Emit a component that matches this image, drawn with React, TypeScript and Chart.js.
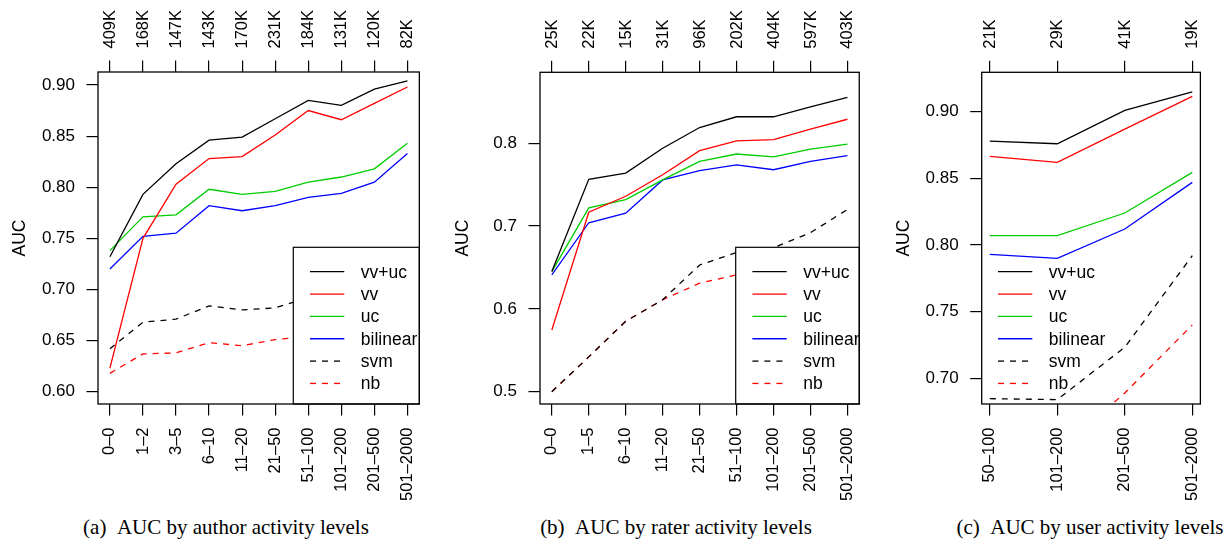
import React, { useEffect, useRef } from "react";
import { Chart, registerables } from "chart.js";
Chart.register(...registerables);

// ---------- shared series info ----------
const seriesNames = ["vv+uc", "vv", "uc", "bilinear", "svm", "nb"];
const seriesColors = ["#000000", "#FF0000", "#00CD00", "#0000FF", "#000000", "#FF0000"];
const seriesDashed = [false, false, false, false, true, true];

// ---------- panel (a): author activity ----------
const authorLevels = ["0–0", "1–2", "3–5", "6–10", "11–20", "21–50", "51–100", "101–200", "201–500", "501–2000"];
const authorCounts = ["409K", "168K", "147K", "143K", "170K", "231K", "184K", "131K", "120K", "82K"];
const authorVvUc = [0.732, 0.793, 0.823, 0.846, 0.849, 0.867, 0.885, 0.880, 0.896, 0.904];
const authorVv = [0.623, 0.750, 0.803, 0.828, 0.830, 0.851, 0.875, 0.866, 0.882, 0.898];
const authorUc = [0.738, 0.771, 0.773, 0.798, 0.793, 0.796, 0.805, 0.810, 0.818, 0.843];
const authorBilinear = [0.720, 0.752, 0.755, 0.782, 0.777, 0.782, 0.790, 0.794, 0.805, 0.833];
const authorSvm = [0.642, 0.668, 0.671, 0.684, 0.680, 0.682, 0.692, 0.690, 0.697, 0.708];
const authorNb = [0.618, 0.637, 0.638, 0.648, 0.645, 0.651, 0.654, 0.652, 0.658, 0.668];
const authorYTicks = [0.60, 0.65, 0.70, 0.75, 0.80, 0.85, 0.90];

// ---------- panel (b): rater activity ----------
const raterLevels = ["0–0", "1–5", "6–10", "11–20", "21–50", "51–100", "101–200", "201–500", "501–2000"];
const raterCounts = ["25K", "22K", "15K", "31K", "96K", "202K", "404K", "597K", "403K"];
const raterVvUc = [0.645, 0.7565, 0.764, 0.794, 0.819, 0.832, 0.832, 0.844, 0.8555];
const raterVv = [0.5745, 0.7167, 0.736, 0.762, 0.791, 0.803, 0.8044, 0.817, 0.829];
const raterUc = [0.645, 0.722, 0.732, 0.7557, 0.778, 0.787, 0.7835, 0.793, 0.799];
const raterBilinear = [0.641, 0.704, 0.7155, 0.7557, 0.767, 0.774, 0.768, 0.778, 0.785];
const raterSvm = [0.500, 0.542, 0.585, 0.611, 0.653, 0.668, 0.674, 0.692, 0.720];
const raterNb = [0.500, 0.542, 0.585, 0.611, 0.631, 0.641, 0.650, 0.655, 0.662];
const raterYTicks = [0.5, 0.6, 0.7, 0.8];

// ---------- panel (c): user activity ----------
const userLevels = ["50–100", "101–200", "201–500", "501–2000"];
const userCounts = ["21K", "29K", "41K", "19K"];
const userVvUc = [0.878, 0.876, 0.901, 0.915];
const userVv = [0.8665, 0.862, 0.887, 0.9115];
const userUc = [0.807, 0.807, 0.824, 0.8545];
const userBilinear = [0.793, 0.790, 0.812, 0.847];
const userSvm = [0.6847, 0.684, 0.7233, 0.792];
const userNb = [0.645, 0.644, 0.689, 0.740];
const userYTicks = [0.70, 0.75, 0.80, 0.85, 0.90];

const captions = [
  "(a)\u2002AUC by author activity levels",
  "(b)\u2002AUC by rater activity levels",
  "(c)\u2002AUC by user activity levels",
];

const SANS = "'Liberation Sans', Arial, Helvetica, sans-serif";

type PanelCfg = {
  left: number;
  width: number;
  height: number;
  yAxisW: number;
  topH: number;
  bottomH: number;
  padRight: number;
  yMin: number;
  yMax: number;
  yTicks: number[];
  dec: number;
  titleOffset: number;
  levels: string[];
  counts: string[];
  series: number[][];
  legendLeft: number;
  legendTop: number;
  legendBorder: boolean;
};

const panels: PanelCfg[] = [
  {
    left: 0, width: 440, height: 500, yAxisW: 98, topH: 72, bottomH: 96, padRight: 10.5,
    yMin: 0.588, yMax: 0.9127, yTicks: authorYTicks, dec: 2, titleOffset: 20,
    levels: authorLevels, counts: authorCounts,
    series: [authorVvUc, authorVv, authorUc, authorBilinear, authorSvm, authorNb],
    legendLeft: 293.3, legendTop: 247.3, legendBorder: true,
  },
  {
    left: 440, width: 440, height: 500, yAxisW: 100, topH: 72.3, bottomH: 96, padRight: 8.3,
    yMin: 0.4851, yMax: 0.8857, yTicks: raterYTicks, dec: 1, titleOffset: 23.5,
    levels: raterLevels, counts: raterCounts,
    series: [raterVvUc, raterVv, raterUc, raterBilinear, raterSvm, raterNb],
    legendLeft: 295.7, legendTop: 247.3, legendBorder: true,
  },
  {
    left: 880, width: 345, height: 500, yAxisW: 101.7, topH: 72.3, bottomH: 96, padRight: 20,
    yMin: 0.6807, yMax: 0.9296, yTicks: userYTicks, dec: 2, titleOffset: 24,
    levels: userLevels, counts: userCounts,
    series: [userVvUc, userVv, userUc, userBilinear, userSvm, userNb],
    legendLeft: 101.3, legendTop: 247.3, legendBorder: false,
  },
];

const TICK_LEN = 11.5;
const LABEL_PAD = 12;

const boxPlugin = {
  id: "rbox",
  afterDraw(chart: any) {
    const { ctx, chartArea: a } = chart;
    ctx.save();
    ctx.strokeStyle = "#000";
    ctx.lineWidth = 1.3;
    ctx.strokeRect(a.left, a.top, a.right - a.left, a.bottom - a.top);
    ctx.restore();
  },
};

function makeTopLabelPlugin(cfg: PanelCfg) {
  return {
    id: "rtoplabels",
    afterDraw(chart: any) {
      const s = chart.scales.xTop;
      const { ctx, chartArea: a } = chart;
      ctx.save();
      ctx.font = `16.5px ${SANS}`;
      ctx.fillStyle = "#000";
      ctx.textAlign = "left";
      ctx.textBaseline = "middle";
      cfg.counts.forEach((c, j) => {
        const x = s.getPixelForValue(j);
        ctx.save();
        ctx.translate(x + 0.5, a.top - TICK_LEN - LABEL_PAD);
        ctx.rotate(-Math.PI / 2);
        ctx.fillText(c, 0, 0);
        ctx.restore();
      });
      ctx.restore();
    },
  };
}

function makeLegendPlugin(cfg: PanelCfg) {
  return {
    id: "rlegend",
    afterDatasetsDraw(chart: any) {
      const { ctx, chartArea: a } = chart;
      const x0 = cfg.legendLeft;
      const y0 = cfg.legendTop;
      ctx.save();
      if (cfg.legendBorder) {
        ctx.fillStyle = "#fff";
        ctx.fillRect(x0, y0, a.right - x0, a.bottom - y0);
        ctx.strokeStyle = "#000";
        ctx.lineWidth = 1.2;
        ctx.strokeRect(x0, y0, a.right - x0, a.bottom - y0);
      }
      ctx.font = `17.5px ${SANS}`;
      ctx.textBaseline = "middle";
      ctx.textAlign = "left";
      seriesNames.forEach((name, i) => {
        const y = y0 + 24.4 + i * 22.35;
        ctx.beginPath();
        ctx.strokeStyle = seriesColors[i];
        ctx.lineWidth = 1.3;
        ctx.setLineDash(seriesDashed[i] ? [6, 6] : []);
        ctx.moveTo(x0 + 16.7, y);
        ctx.lineTo(x0 + 51, y);
        ctx.stroke();
        ctx.setLineDash([]);
        ctx.fillStyle = "#000";
        ctx.fillText(name, x0 + 67.5, y + 1);
      });
      ctx.restore();
    },
  };
}

function Panel({ cfg }: { cfg: PanelCfg }) {
  const ref = useRef<HTMLCanvasElement>(null);
  useEffect(() => {
    const n = cfg.levels.length;
    const xMin = -0.04 * (n - 1);
    const xMax = (n - 1) * 1.04;
    const gridOpts = {
      drawOnChartArea: false,
      drawTicks: true,
      tickLength: TICK_LEN,
      color: "#000",
      lineWidth: 1.2,
    };
    const chart = new Chart(ref.current as HTMLCanvasElement, {
      type: "line",
      data: {
        datasets: cfg.series.map((vals, i) => ({
          label: seriesNames[i],
          data: vals.map((v, j) => ({ x: j, y: v })),
          borderColor: seriesColors[i],
          backgroundColor: seriesColors[i],
          borderWidth: 1.3,
          borderDash: seriesDashed[i] ? [6, 6] : [],
          pointRadius: 0,
          fill: false,
          tension: 0,
          xAxisID: "x",
          yAxisID: "y",
        })),
      },
      options: {
        animation: false,
        responsive: false,
        events: [],
        layout: { padding: { left: 0, top: 0, right: cfg.padRight, bottom: 0 } },
        plugins: { legend: { display: false }, tooltip: { enabled: false } },
        scales: {
          x: {
            type: "linear",
            position: "bottom",
            min: xMin,
            max: xMax,
            afterBuildTicks: (s: any) => {
              s.ticks = cfg.levels.map((_, j) => ({ value: j }));
            },
            afterFit: (s: any) => {
              s.height = cfg.bottomH;
            },
            ticks: {
              autoSkip: false,
              minRotation: 90,
              maxRotation: 90,
              padding: LABEL_PAD,
              color: "#000",
              font: { family: SANS, size: 16.5 },
              callback: (v: any) => cfg.levels[Math.round(Number(v))],
            },
            grid: gridOpts,
            border: { display: false },
          },
          xTop: {
            type: "linear",
            position: "top",
            min: xMin,
            max: xMax,
            afterBuildTicks: (s: any) => {
              s.ticks = cfg.counts.map((_, j) => ({ value: j }));
            },
            afterFit: (s: any) => {
              s.height = cfg.topH;
            },
            ticks: { display: false },
            grid: gridOpts,
            border: { display: false },
          },
          y: {
            type: "linear",
            position: "left",
            min: cfg.yMin,
            max: cfg.yMax,
            afterBuildTicks: (s: any) => {
              s.ticks = cfg.yTicks.map((v) => ({ value: v }));
            },
            afterFit: (s: any) => {
              s.width = cfg.yAxisW;
            },
            ticks: {
              padding: 11.5,
              color: "#000",
              font: { family: SANS, size: 17 },
              callback: (v: any) => Number(v).toFixed(cfg.dec),
            },
            grid: gridOpts,
            border: { display: false },
            title: {
              display: true,
              text: "AUC",
              color: "#000",
              font: { family: SANS, size: 17.5 },
              padding: { top: cfg.titleOffset - 10.5, bottom: 0 },
            },
          },
        },
      } as any,
      plugins: [makeLegendPlugin(cfg), makeTopLabelPlugin(cfg), boxPlugin],
    });
    return () => chart.destroy();
  }, [cfg]);
  return (
    <canvas
      ref={ref}
      width={cfg.width}
      height={cfg.height}
      style={{ position: "absolute", left: cfg.left, top: 0, width: cfg.width, height: cfg.height }}
    />
  );
}

const captionCenters = [226, 676, 1090];

export default function App() {
  return (
    <div
      style={{
        position: "fixed",
        left: 0,
        top: 0,
        width: 1225,
        height: 543,
        background: "#fff",
        overflow: "hidden",
      }}
    >
      {panels.map((p, i) => (
        <Panel key={i} cfg={p} />
      ))}
      {captions.map((c, i) => (
        <div
          key={"c" + i}
          style={{
            position: "absolute",
            left: captionCenters[i] - 200,
            width: 400,
            top: 517,
            textAlign: "center",
            fontFamily: "'Liberation Serif', 'Times New Roman', serif",
            fontSize: 21,
            lineHeight: "21px",
            color: "#000",
            whiteSpace: "nowrap",
          }}
        >
          {c}
        </div>
      ))}
    </div>
  );
}
